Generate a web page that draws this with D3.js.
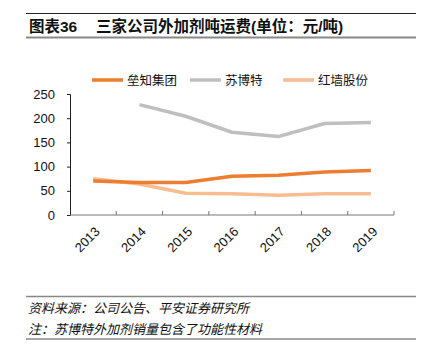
<!DOCTYPE html>
<html>
<head>
<meta charset="utf-8">
<script src="https://cdn.jsdelivr.net/npm/d3@7"></script>
<style>
  body { margin: 0; background: #fff; }
  svg { display: block; }
</style>
</head>
<body>
<svg id="chart" width="425" height="351"></svg>
<script>
// Data
const years = ["2013", "2014", "2015", "2016", "2017", "2018", "2019"];
const seriesNames = ["垒知集团", "苏博特", "红墙股份"];
const laozhi = [70, 67, 67, 80, 82, 89, 92];
const subote = [null, 228, 204, 171, 162, 189, 191];
const hongqiang = [75, 64, 45, 44, 41, 44, 44];
const yTicks = [0, 50, 100, 150, 200, 250];

const colors = ["#ED7D31", "#BFBFBF", "#F7BD91"];
const allSeries = [laozhi, subote, hongqiang];

const dimensions = {
    width: 425,
    height: 351,
    margin: { top: 94, bottom: 136, left: 70, right: 31 },
};

const svg = d3.select("#chart");
const cjk = "'Liberation Sans', 'Noto Sans CJK SC', sans-serif";

// Header and footer rules
svg.append("line")
    .attr("x1", 26).attr("x2", 416).attr("y1", 13.5).attr("y2", 13.5)
    .attr("stroke", "#222").attr("stroke-width", 1);
svg.append("line")
    .attr("x1", 26).attr("x2", 416).attr("y1", 37.5).attr("y2", 37.5)
    .attr("stroke", "#888").attr("stroke-width", 2);

svg.append("text")
    .attr("x", 29).attr("y", 32)
    .attr("font-family", cjk)
    .attr("font-weight", "bold")
    .attr("font-size", 15.5)
    .attr("fill", "#111")
    .text("图表36");
svg.append("text")
    .attr("x", 96).attr("y", 32)
    .attr("font-family", cjk)
    .attr("font-weight", "bold")
    .attr("font-size", 15.5)
    .attr("fill", "#111")
    .text("三家公司外加剂吨运费(单位：元/吨)");

svg.append("line")
    .attr("x1", 26).attr("x2", 416).attr("y1", 296.5).attr("y2", 296.5)
    .attr("stroke", "#888").attr("stroke-width", 1.5);
svg.append("line")
    .attr("x1", 26).attr("x2", 416).attr("y1", 339).attr("y2", 339)
    .attr("stroke", "#888").attr("stroke-width", 1.5);

svg.append("text")
    .attr("x", 28).attr("y", 313)
    .attr("font-family", cjk)
    .attr("font-style", "italic")
    .attr("font-size", 13)
    .attr("fill", "#111")
    .text("资料来源：公司公告、平安证券研究所");
svg.append("text")
    .attr("x", 28).attr("y", 334)
    .attr("font-family", cjk)
    .attr("font-style", "italic")
    .attr("font-size", 13)
    .attr("fill", "#111")
    .text("注：苏博特外加剂销量包含了功能性材料");

// Scales
const xScale = d3.scaleBand()
    .domain(years)
    .range([dimensions.margin.left, dimensions.width - dimensions.margin.right]);

const yScale = d3.scaleLinear()
    .domain([0, 250])
    .range([dimensions.height - dimensions.margin.bottom, dimensions.margin.top]);

// Y axis
const yAxis = svg.append("g")
    .attr("transform", `translate(${dimensions.margin.left},0)`)
    .call(d3.axisLeft(yScale).tickValues(yTicks).tickSize(3).tickPadding(12));
yAxis.select(".domain").attr("stroke", "#222");
yAxis.selectAll(".tick line").attr("stroke", "#222");
yAxis.selectAll("text")
    .attr("font-family", "'Liberation Sans', Arial, sans-serif")
    .attr("font-size", 13)
    .attr("fill", "#111");

// X axis (ticks at band edges, pointing up)
const xAxisG = svg.append("g")
    .attr("transform", `translate(0,${yScale(0)})`);
xAxisG.append("line")
    .attr("x1", xScale.range()[0]).attr("x2", xScale.range()[1])
    .attr("stroke", "#777").attr("stroke-width", 1);
const edges = years.map(y => xScale(y)).concat([xScale.range()[1]]);
xAxisG.selectAll(".edge")
    .data(edges.slice(1))
    .enter()
    .append("line")
    .attr("x1", d => d).attr("x2", d => d)
    .attr("y1", 0).attr("y2", -4)
    .attr("stroke", "#777");
xAxisG.selectAll(".lbl")
    .data(years)
    .enter()
    .append("text")
    .attr("transform", d => `translate(${xScale(d) + xScale.bandwidth() / 2 + 1},${11}) rotate(-45)`)
    .attr("text-anchor", "end")
    .attr("dy", "0.7em")
    .attr("font-family", "'Liberation Sans', Arial, sans-serif")
    .attr("font-size", 13)
    .attr("fill", "#111")
    .text(d => d);

// Lines
const line = d3.line()
    .defined(d => d.v !== null)
    .x(d => xScale(d.year) + xScale.bandwidth() / 2)
    .y(d => yScale(d.v));

[1, 2, 0].forEach(i => {
    const pts = years.map((y, j) => ({ year: y, v: allSeries[i][j] }));
    svg.append("path")
        .datum(pts)
        .attr("d", line)
        .attr("fill", "none")
        .attr("stroke", colors[i])
        .attr("stroke-width", 3.5)
        .attr("stroke-linejoin", "round");
});

// Legend
const legendX = [92, 190, 283];
seriesNames.forEach((name, i) => {
    const g = svg.append("g").attr("transform", `translate(${legendX[i]},80)`);
    g.append("line")
        .attr("x1", 0).attr("x2", 31)
        .attr("stroke", colors[i])
        .attr("stroke-width", 3.5);
    g.append("text")
        .attr("x", 35).attr("y", 4.5)
        .attr("font-family", cjk)
        .attr("font-size", 12.5)
        .attr("fill", "#111")
        .text(name);
});
</script>
</body>
</html>
